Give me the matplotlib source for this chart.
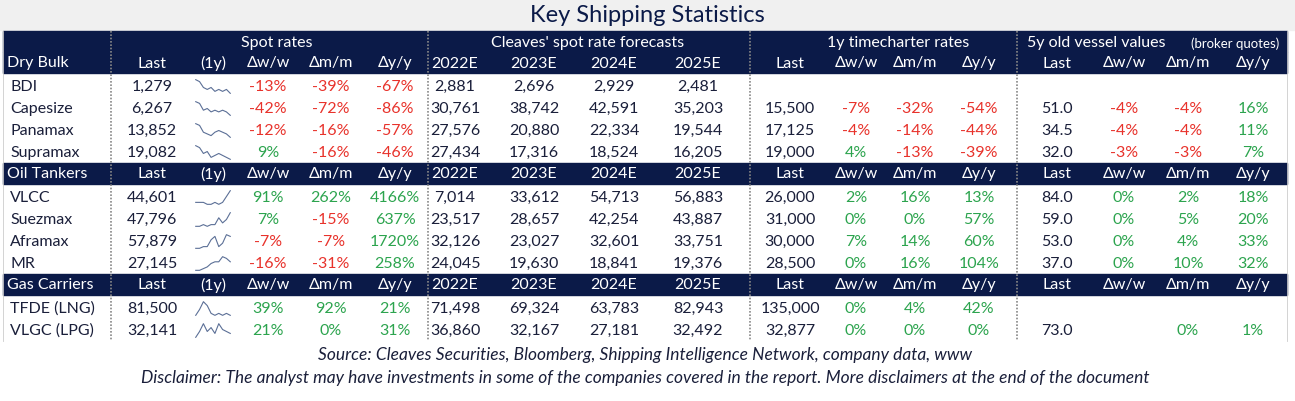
import matplotlib
matplotlib.use("Agg")
import matplotlib.pyplot as plt

plt.rcParams['font.family'] = ['Lato', 'DejaVu Sans']

NAVY = '#0b1a48'; RED = '#e8322b'; GREEN = '#2ca44e'; TXT = '#1a1f3a'

sections = ["Dry Bulk", "Oil Tankers", "Gas Carriers"]
names = [["BDI", "Capesize", "Panamax", "Supramax"],
         ["VLCC", "Suezmax", "Aframax", "MR"],
         ["TFDE (LNG)", "VLGC (LPG)"]]
spot_last = [["1,279", "6,267", "13,852", "19,082"],
             ["44,601", "47,796", "57,879", "27,145"],
             ["81,500", "32,141"]]
spot_ww = [["-13%", "-42%", "-12%", "9%"], ["91%", "7%", "-7%", "-16%"], ["39%", "21%"]]
spot_mm = [["-39%", "-72%", "-16%", "-16%"], ["262%", "-15%", "-7%", "-31%"], ["92%", "0%"]]
spot_yy = [["-67%", "-86%", "-57%", "-46%"], ["4166%", "637%", "1720%", "258%"], ["21%", "31%"]]
f2022 = [["2,881", "30,761", "27,576", "27,434"], ["7,014", "23,517", "32,126", "24,045"], ["71,498", "36,860"]]
f2023 = [["2,696", "38,742", "20,880", "17,316"], ["33,612", "28,657", "23,027", "19,630"], ["69,324", "32,167"]]
f2024 = [["2,929", "42,591", "22,334", "18,524"], ["54,713", "42,254", "32,601", "18,841"], ["63,783", "27,181"]]
f2025 = [["2,481", "35,203", "19,544", "16,205"], ["56,883", "43,887", "33,751", "19,376"], ["82,943", "32,492"]]
tc_last = [["", "15,500", "17,125", "19,000"], ["26,000", "31,000", "30,000", "28,500"], ["135,000", "32,877"]]
tc_ww = [["", "-7%", "-4%", "4%"], ["2%", "0%", "7%", "0%"], ["0%", "0%"]]
tc_mm = [["", "-32%", "-14%", "-13%"], ["16%", "0%", "14%", "16%"], ["4%", "0%"]]
tc_yy = [["", "-54%", "-44%", "-39%"], ["13%", "57%", "60%", "104%"], ["42%", "0%"]]
vv_last = [["", "51.0", "34.5", "32.0"], ["84.0", "59.0", "53.0", "37.0"], ["", "73.0"]]
vv_ww = [["", "-4%", "-4%", "-3%"], ["0%", "0%", "0%", "0%"], ["", ""]]
vv_mm = [["", "-4%", "-4%", "-3%"], ["2%", "5%", "4%", "10%"], ["", "0%"]]
vv_yy = [["", "16%", "11%", "7%"], ["18%", "20%", "33%", "32%"], ["", "1%"]]
spark = [[[9, 8, 5, 4, 5, 3, 4, 3, 4, 2],
          [9, 8, 4, 5, 3, 4, 3, 4, 3, 1],
          [9, 8, 4, 3, 2, 4, 5, 4, 3, 1],
          [9, 8, 5, 6, 3, 4, 5, 4, 3, 2]],
         [[3, 3, 3, 2, 2, 3, 2, 3, 6, 9],
          [1, 1, 2, 1, 2, 2, 6, 3, 5, 9],
          [1, 1, 2, 2, 6, 8, 2, 4, 9, 8],
          [1, 1, 2, 3, 5, 6, 6, 9, 8, 6]],
         [[2, 5, 9, 7, 3, 2, 3, 2, 3, 2],
          [1, 4, 8, 4, 6, 3, 8, 5, 4, 3]]]
group_titles = ["Spot rates", "Cleaves' spot rate forecasts", "1y timecharter rates"]
col_heads = ["Last", "(1y)", "Δw/w", "Δm/m", "Δy/y", "2022E", "2023E", "2024E", "2025E",
             "Last", "Δw/w", "Δm/m", "Δy/y", "Last", "Δw/w", "Δm/m", "Δy/y"]

W, H = 1295, 402
fig = plt.figure(figsize=(W / 100, H / 100), dpi=100)
ax = fig.add_axes([0, 0, 1, 1])
ax.set_xlim(0, W); ax.set_ylim(H, 0); ax.axis('off')
ax.add_patch(plt.Rectangle((0, 0), W, 31, color='#f0f0f0', zorder=0))
ax.text(W / 2, 15, "Key Shipping Statistics", ha='center', va='center', fontsize=17, color=NAVY)

L, R = 3, 1287
cx = [152, 213, 268, 331, 395, 455, 534, 614, 698, 790, 856, 915, 979, 1057, 1124, 1188, 1253]
dividers = [111, 428, 750, 1017]
FS = 11.5

def color_of(s):
    if s.endswith('%'):
        return RED if s.startswith('-') else GREEN
    return TXT

ax.add_patch(plt.Rectangle((L, 32), R - L, 21, color=NAVY, zorder=1))
for g, x in zip(group_titles, [277, 588, 898]):
    ax.text(x, 43, g, ha='center', va='center', fontsize=FS, color='white', zorder=3)
ax.text(1027, 43, "5y old vessel values", ha='left', va='center', fontsize=FS, color='white', zorder=3)
ax.text(1279, 44, "(broker quotes)", ha='right', va='center', fontsize=9.5, color='white', zorder=3)

y = 53
for si, sec in enumerate(sections):
    ax.add_patch(plt.Rectangle((L, y), R - L, 21, color=NAVY, zorder=1))
    ax.text(7, y + 10.5, sec, ha='left', va='center', fontsize=FS, color='white', zorder=3)
    for h, x in zip(col_heads, cx):
        ax.text(x, y + 10.5, h, ha='center', va='center', fontsize=FS, color='white', zorder=3)
    y += 21
    ax.add_patch(plt.Rectangle((L, y), R - L, 22 * len(names[si]) + 2, color='white', zorder=0.5))
    y += 2
    for ri, nm in enumerate(names[si]):
        yc = y + 11
        ax.text(10, yc, nm, ha='left', va='center', fontsize=FS, color=TXT, zorder=3)
        vals = [spot_last[si][ri], None, spot_ww[si][ri], spot_mm[si][ri], spot_yy[si][ri],
                f2022[si][ri], f2023[si][ri], f2024[si][ri], f2025[si][ri],
                tc_last[si][ri], tc_ww[si][ri], tc_mm[si][ri], tc_yy[si][ri],
                vv_last[si][ri], vv_ww[si][ri], vv_mm[si][ri], vv_yy[si][ri]]
        for ci, (v, x) in enumerate(zip(vals, cx)):
            if v is None or v == "":
                continue
            c = color_of(v) if ci not in (5, 6, 7, 8) else TXT
            ax.text(x, yc, v, ha='center', va='center', fontsize=FS, color=c, zorder=3)
        sax = fig.add_axes([194 / W, 1 - (yc + 8) / H, 38 / W, 15 / H])
        sax.plot(spark[si][ri], color='#5b6f96', lw=0.8)
        sax.axis('off')
        y += 22
for d in dividers:
    ax.plot([d, d], [32, y], color='#888888', lw=1.2, ls=(0, (1, 1)), zorder=2)
ax.plot([L, L], [32, y], color='#cccccc', lw=0.6)
ax.plot([R, R], [32, y], color='#cccccc', lw=0.6)

ax.text(645, 355, "Source: Cleaves Securities, Bloomberg, Shipping Intelligence Network, company data, www",
        ha='center', va='center', fontsize=12.5, style='italic', color=TXT)
ax.text(645, 378, "Disclaimer: The analyst may have investments in some of the companies covered in the report. More disclaimers at the end of the document",
        ha='center', va='center', fontsize=12.5, style='italic', color=TXT)
fig.savefig("out.png", dpi=100, facecolor='white')
